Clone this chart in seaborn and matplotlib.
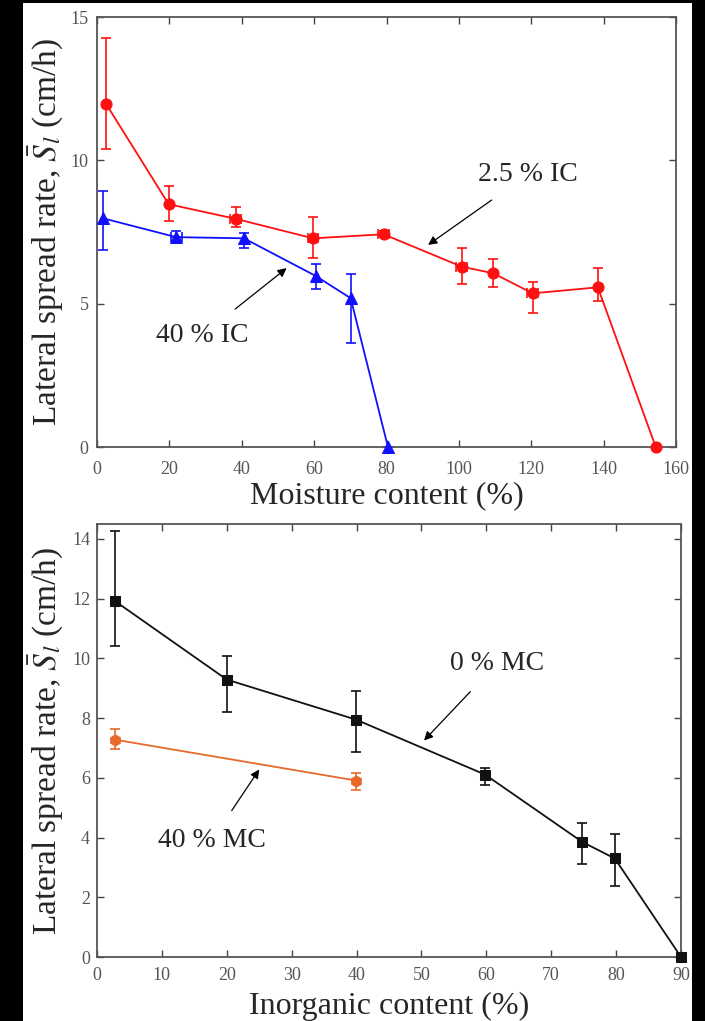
import numpy as np
import pandas as pd
import matplotlib.pyplot as plt
import seaborn as sns
from matplotlib.patches import Rectangle

# top panel: spread rate vs moisture content
mc_red = [2.5, 19.8, 38.3, 59.7, 79.2, 100.8, 109.5, 120.4, 138.4, 154.4]
sl_red = [11.97, 8.47, 7.96, 7.28, 7.42, 6.29, 6.06, 5.36, 5.57, 0.0]
up_red = [2.31, 0.62, 0.41, 0.76, 0.10, 0.66, 0.51, 0.40, 0.69, 0.0]
lo_red = [1.56, 0.57, 0.30, 0.67, 0.10, 0.59, 0.47, 0.67, 0.48, 0.0]
xe_red = [0, 0, 1.5, 1.5, 1.5, 1.5, 0, 1.5, 0, 0]

mc_blue = [1.6, 21.9, 40.6, 60.4, 70.1, 80.4]
sl_blue = [7.98, 7.32, 7.28, 5.97, 5.19, 0.0]
up_blue = [0.96, 0.20, 0.20, 0.42, 0.84, 0.0]
lo_blue = [1.10, 0.12, 0.34, 0.47, 1.55, 0.0]
xe_blue = [0, 1.5, 0, 0, 0, 0]

# bottom panel: spread rate vs inorganic content
ic_black = [2.7, 20.0, 39.9, 59.8, 74.8, 79.8, 90.0]
sl_black = [11.93, 9.29, 7.95, 6.11, 3.85, 3.30, 0.0]
up_black = [2.34, 0.78, 0.96, 0.21, 0.64, 0.83, 0.0]
lo_black = [1.53, 1.10, 1.10, 0.36, 0.75, 0.93, 0.0]

ic_orange = [2.7, 39.9]
sl_orange = [7.28, 5.91]
up_orange = [0.37, 0.25]
lo_orange = [0.30, 0.33]

sns.set_style("ticks")
plt.rcParams['font.family'] = ['Liberation Serif', 'DejaVu Serif']
plt.rcParams['mathtext.fontset'] = 'stix'

fig = plt.figure(figsize=(7.05, 10.21), dpi=100)
fig.patch.set_facecolor('black')
bg = Rectangle((22.7 / 705, 0), (692 - 22.7) / 705, 1 - 3.3 / 1021,
               transform=fig.transFigure, facecolor='white',
               edgecolor='none', zorder=-10)
fig.patches.append(bg)

ax1 = fig.add_axes([97 / 705, 1 - 447 / 1021, (676 - 97) / 705, (447 - 17) / 1021])
ax2 = fig.add_axes([97 / 705, 1 - 957 / 1021, (681 - 97) / 705, (957 - 524) / 1021])

red = '#ff1010'
blue = '#1010ff'
black = '#111111'
orange = '#e8692c'


def series(ax, x, y, up, lo, color, marker, ms, xerr=None):
    df = pd.DataFrame({'x': x, 'y': y})
    ax.errorbar(x, y, yerr=[lo, up], xerr=xerr, fmt='none', ecolor=color,
                elinewidth=1.2, capsize=3.5, capthick=1.2, zorder=2)
    sns.lineplot(data=df, x='x', y='y', ax=ax, color=color, marker=marker,
                 markersize=ms, markeredgecolor=color, linewidth=1.3,
                 sort=False, zorder=3, clip_on=False)


series(ax1, mc_red, sl_red, up_red, lo_red, red, 'o', 8, xe_red)
series(ax1, mc_blue, sl_blue, up_blue, lo_blue, blue, '^', 8, xe_blue)
series(ax2, ic_black, sl_black, up_black, lo_black, black, 's', 7)
series(ax2, ic_orange, sl_orange, up_orange, lo_orange, orange, 'h', 8)

ax1.set_xlim(0, 160)
ax1.set_ylim(0, 15)
ax1.set_xticks(np.arange(0, 161, 20))
ax1.set_yticks([0, 5, 10, 15])
ax1.set_xlabel('Moisture content (%)', fontsize=23, va='center')
ax1.xaxis.set_label_coords(0.5, -(496 - 447) / 430)
ax1.tick_params(axis='x', pad=10)
ax1.tick_params(axis='y', pad=6)

ax2.set_xlim(0, 90)
ax2.set_ylim(0, 14.5)
ax2.set_xticks(np.arange(0, 91, 10))
ax2.set_yticks(np.arange(0, 15, 2))
ax2.set_xlabel('Inorganic content (%)', fontsize=23, va='center')
ax2.xaxis.set_label_coords(0.5, -(1006 - 957) / 433)
ax2.tick_params(axis='x', pad=7)
ax2.tick_params(axis='y', pad=5)

for ax in (ax1, ax2):
    ax.set_facecolor('white')
    ax.set_ylabel(r'Lateral spread rate, $\bar{S}_l$ (cm/h)', fontsize=24,
                  ha='center', va='center')
    w = ax.get_position().width * 705
    ax.yaxis.set_label_coords(-(97 - 46) / w, 0.5)
    ax.tick_params(direction='in', top=True, right=True, length=5, width=1,
                   labelsize=13, labelcolor='#555555', color='#444444')
    for s in ax.spines.values():
        s.set_color('#555555')
        s.set_linewidth(1.3)

arrow = dict(arrowstyle='-|>', color='black', lw=0.9,
             shrinkA=12, shrinkB=0, mutation_scale=13)
ax1.annotate('2.5 % IC', xy=(91.5, 7.05), xytext=(119, 9.5), fontsize=20,
             ha='center', va='center', arrowprops=arrow)
ax1.annotate('40 % IC', xy=(52.4, 6.24), xytext=(29.1, 3.9), fontsize=20,
             ha='center', va='center', arrowprops=arrow)
ax2.annotate('0 % MC', xy=(50.4, 7.25), xytext=(61.6, 9.82), fontsize=20,
             ha='center', va='center', arrowprops=arrow)
ax2.annotate('40 % MC', xy=(25, 6.28), xytext=(17.7, 3.91), fontsize=20,
             ha='center', va='center', arrowprops=arrow)

fig.savefig('out.png', dpi=100, facecolor=fig.get_facecolor())
